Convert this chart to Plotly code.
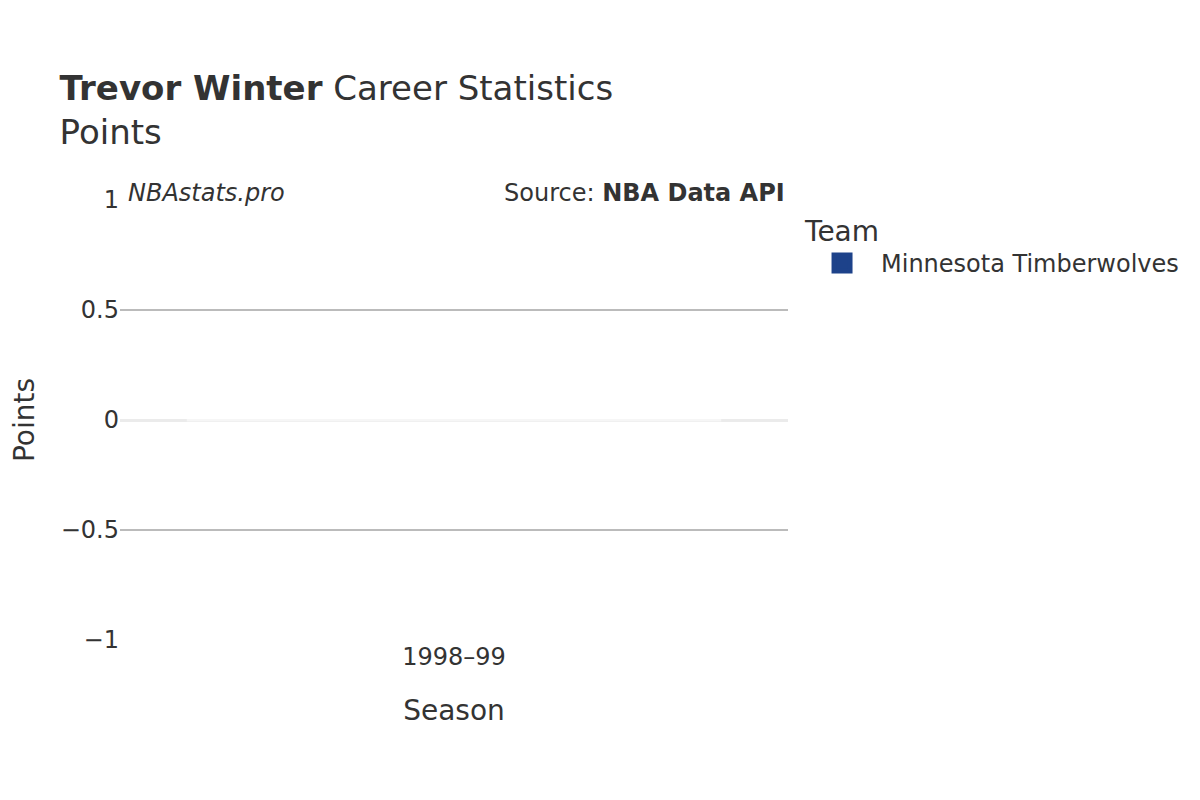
import plotly.graph_objects as go

# data
seasons = ["1998–99"]
points = [0]
team = "Minnesota Timberwolves"
team_color = "#1d428a"

fig = go.Figure()
fig.add_trace(go.Bar(
    x=seasons,
    y=points,
    name=team,
    marker=dict(color=team_color, line=dict(color="rgba(255,255,255,0.55)", width=3)),
    showlegend=False,
))
# legend entry for the team
fig.add_trace(go.Scatter(
    x=[None], y=[None],
    mode="markers",
    name=team,
    marker=dict(symbol="square", size=16, color=team_color, line=dict(color=team_color, width=5)),
    showlegend=True,
))

fig.update_layout(
    width=1200, height=800,
    font=dict(family="DejaVu Sans", size=24, color="#333"),
    plot_bgcolor="white", paper_bgcolor="white",
    title=dict(
        text="<b>Trevor Winter</b> Career Statistics<br>Points",
        x=0.043, xanchor="left", y=0.885, yanchor="top",
        font=dict(size=34, color="#333"),
    ),
    margin=dict(l=112, r=420, t=192, b=168),
    legend=dict(
        title=dict(text="Team", font=dict(size=28)),
        x=1.0225, xanchor="left", y=0.99, yanchor="top",
        font=dict(size=24),
        itemwidth=68,
    ),
    xaxis=dict(title=dict(text="Season", font=dict(size=28), standoff=30),
               showgrid=False, tickfont=dict(size=24)),
    yaxis=dict(
        title=dict(text="Points", font=dict(size=28), standoff=32),
        automargin=False,
        range=[-1, 1], dtick=0.5,
        gridcolor="#bbb", gridwidth=1.5,
        zeroline=True, zerolinecolor="#ebebeb", zerolinewidth=3,
        tickfont=dict(size=24),
    ),
    annotations=[
        dict(text="<i>NBAstats.pro</i>", xref="paper", yref="paper", x=0.009, y=1.0,
             xanchor="left", yanchor="bottom", yshift=-9, showarrow=False,
             font=dict(size=24, color="#333")),
        dict(text="Source: <b>NBA Data API</b>", xref="paper", yref="paper", x=0.999, y=1.0,
             xanchor="right", yanchor="bottom", yshift=-9, showarrow=False,
             font=dict(size=24, color="#333")),
    ],
)

fig.write_html("out.html")
